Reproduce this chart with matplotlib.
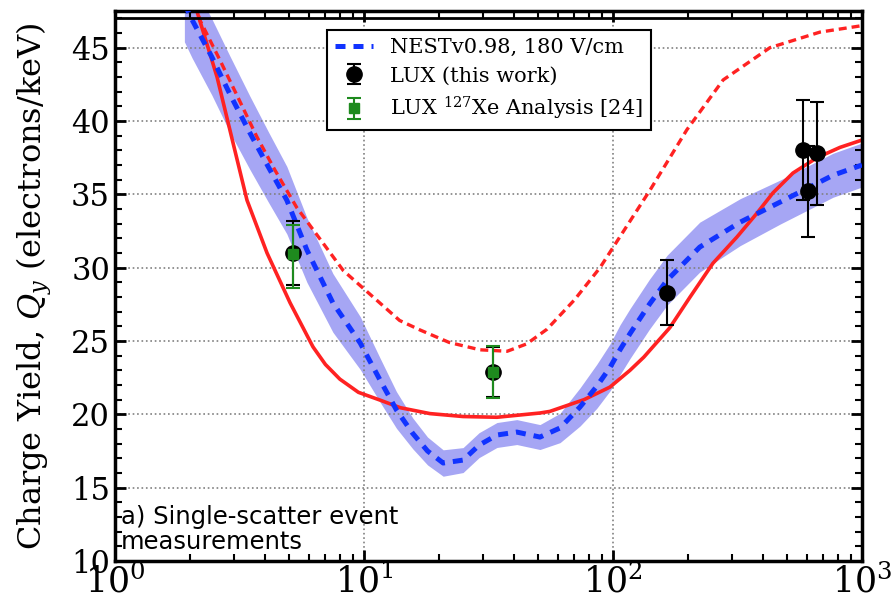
import matplotlib
matplotlib.use("Agg")
import matplotlib.pyplot as plt

# NEST v0.98 curve (blue dashed) and band half width
nest_e = [1.9, 2.04, 2.45, 2.9, 3.48, 4.12, 4.9, 5.9, 7.5, 9.66, 11.6, 13.5, 15.7, 18.0, 20.8,
          25.0, 29.0, 34.2, 41.1, 50.9, 61.3, 73.7, 86.0, 97.3, 106.7, 117, 140, 165, 223,
          324, 469, 765, 1000]
nest_q = [48.0, 46.9, 44.36, 41.8, 39.2, 36.9, 34.6, 31.2, 27.6, 24.86, 22.34, 20.3, 18.7, 17.5, 16.68,
          16.88, 17.9, 18.59, 18.79, 18.45, 19.07, 20.5, 21.9, 23.2, 24.4, 25.5, 27.5, 29.15, 31.4,
          33.1, 34.47, 36.3, 37.0]
nest_err = [2.6, 2.6, 2.6, 2.6, 2.5, 2.4, 2.3, 2.2, 2.0, 1.8, 1.5, 1.25, 1.05, 0.95, 0.9,
            0.85, 0.85, 0.85, 0.85, 0.85, 1.0, 1.3, 1.5, 1.6, 1.7, 1.7, 1.7, 1.7, 1.7,
            1.6, 1.5, 1.5, 1.5]

# red solid curve
red_e = [2.1, 2.15, 2.57, 2.98, 3.39, 4.08, 5.05, 6.24, 7.0, 8.0, 9.5, 11.6, 14.0, 18.4, 25.0,
         34.2, 50.9, 55.8, 76.5, 97.3, 117, 133, 169, 204, 252, 315, 378, 439, 528, 660, 816, 1000]
red_q = [48.0, 47.3, 43.0, 38.5, 34.6, 31.0, 27.6, 24.6, 23.4, 22.4, 21.5, 20.97, 20.45, 20.05, 19.85,
         19.8, 20.09, 20.2, 21.0, 21.86, 23.0, 23.9, 25.9, 28.0, 30.3, 32.1, 33.7, 35.1, 36.45, 37.5,
         38.2, 38.7]

# red dashed curve
redd_e = [2.1, 2.19, 2.64, 3.12, 3.72, 4.39, 5.37, 8.26, 13.9, 16.8, 22.0, 29.2, 37.6, 45.0, 54.3,
          70.0, 88.7, 141, 198, 277, 427, 678, 1000]
redd_q = [48.0, 46.9, 44.15, 41.6, 38.9, 36.65, 34.1, 29.8, 26.4, 25.75, 24.9, 24.4, 24.3, 24.8, 25.8,
          27.8, 30.0, 35.3, 39.4, 42.8, 45.0, 46.06, 46.5]

# LUX (this work)
lux_e = [5.2, 33.0, 165, 580, 607, 660]
lux_q = [31.0, 22.9, 28.3, 38.0, 35.2, 37.8]
lux_err = [2.2, 1.7, 2.2, 3.4, 3.1, 3.5]

# LUX 127Xe analysis
xe_e = [5.2, 33.0]
xe_q = [30.9, 22.9]
xe_lo = [2.3, 1.8]
xe_hi = [2.0, 1.75]

plt.rcParams['font.family'] = 'DejaVu Serif'
plt.rcParams['mathtext.fontset'] = 'dejavuserif'

fig = plt.figure(figsize=(8.94, 6.0), dpi=100)
ax = fig.add_axes([0.1286, 0.065, 0.8356, 0.9167])

lo = [q - e for q, e in zip(nest_q, nest_err)]
hi = [q + e for q, e in zip(nest_q, nest_err)]
ax.fill_between(nest_e, lo, hi, color='#a6a6f4', lw=0, zorder=1)
ax.plot(nest_e, nest_q, color='#1133ff', lw=3.6, ls=(0, (2.0, 1.6)), zorder=3,
        label='NESTv0.98, 180 V/cm')
ax.plot(red_e, red_q, color='#ff2222', lw=2.6, zorder=2)
ax.plot(redd_e, redd_q, color='#ff2222', lw=2.4, ls=(0, (2.4, 1.5)), zorder=2)

ax.errorbar(lux_e, lux_q, yerr=lux_err, fmt='o', color='black', ms=11, lw=1.5,
            capsize=5, capthick=1.5, zorder=4, label='LUX (this work)')
ax.errorbar(xe_e, xe_q, yerr=[xe_lo, xe_hi], fmt='s', color='#1e8a1e', ms=7, lw=1.5,
            capsize=5, capthick=1.5, zorder=5, label=r'LUX $^{127}$Xe Analysis [24]')

ax.axhline(47.0, color='black', lw=2, zorder=6)

ax.set_xscale('log')
ax.set_xlim(1, 1000)
ax.set_ylim(10, 47.5)
ax.set_yticks([10, 15, 20, 25, 30, 35, 40, 45])
ax.yaxis.set_minor_locator(matplotlib.ticker.MultipleLocator(1))
ax.tick_params(which='both', direction='in', top=True, right=True)
ax.tick_params(which='major', length=8, width=2)
ax.tick_params(which='minor', length=5, width=1.5)
ax.tick_params(axis='y', which='major', labelsize=22)
ax.tick_params(axis='x', which='major', labelsize=25, pad=2)
for s in ax.spines.values():
    s.set_linewidth(2.5)
ax.grid(True, which='major', ls=':', color='gray', lw=1.2)

ax.set_ylabel(r'Charge Yield, $Q_y$ (electrons/keV)', fontsize=23, labelpad=12)

ax.text(0.008, 0.012, 'a) Single-scatter event\nmeasurements', transform=ax.transAxes,
        family='DejaVu Sans', fontsize=17.5, ha='left', va='bottom', linespacing=1.05)

leg = ax.legend(loc='upper left', bbox_to_anchor=(0.27, 0.985), fontsize=15,
                fancybox=False, edgecolor='black', framealpha=1, handlelength=1.8,
                labelspacing=0.45)
leg.get_frame().set_linewidth(1.5)

fig.savefig('out.png', dpi=100)
